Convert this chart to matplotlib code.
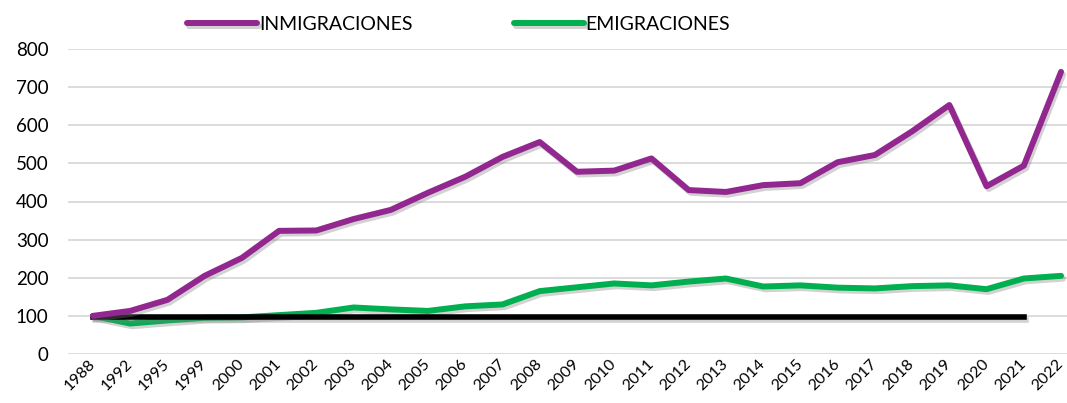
import matplotlib.pyplot as plt
import matplotlib.patheffects as pe
import matplotlib.transforms as mtransforms

years = ['1988', '1992', '1995', '1999', '2000', '2001', '2002', '2003', '2004',
         '2005', '2006', '2007', '2008', '2009', '2010', '2011', '2012', '2013',
         '2014', '2015', '2016', '2017', '2018', '2019', '2020', '2021', '2022']
inmigraciones = [100, 113, 142, 205, 252, 323, 324, 354, 378, 423, 465, 517, 556,
                 478, 481, 513, 430, 425, 443, 448, 503, 522, 584, 653, 440, 494, 740]
emigraciones = [100, 80, 88, 95, 96, 102, 108, 122, 117, 113, 125, 130, 165,
                175, 185, 180, 190, 198, 177, 180, 174, 172, 178, 180, 170, 198, 205]
base = 96  # linea de referencia

plt.rcParams['font.family'] = ['Lato', 'DejaVu Sans']

fig = plt.figure(figsize=(10.67, 4.03), dpi=100)
ax = fig.add_axes([0.0637, 0.1216, 0.9363, 0.7568])

x = list(range(len(years)))
shadow = [pe.SimpleLineShadow(offset=(1.5, -2), shadow_color='gray', alpha=0.35), pe.Normal()]

ax.plot(x, emigraciones, color='#00B050', lw=4.3, solid_capstyle='round',
        solid_joinstyle='round', path_effects=shadow, label='EMIGRACIONES', zorder=3)
ax.plot(x[:-1], [base] * (len(x) - 1), color='black', lw=4.0,
        solid_capstyle='projecting', path_effects=shadow, zorder=3.5)
ax.plot(x, inmigraciones, color='#92278F', lw=4.3, solid_capstyle='round',
        solid_joinstyle='round', path_effects=shadow, label='INMIGRACIONES', zorder=4)

ax.set_ylim(0, 800)
ax.set_yticks(range(0, 801, 100))
ax.set_xlim(-0.67, 26.16)
ax.set_xticks(x)
ax.set_xticklabels(years, rotation=45, ha='right', rotation_mode='anchor', fontsize=11.5)
ax.tick_params(axis='y', labelsize=13.5, length=0, pad=14)
ax.tick_params(axis='x', length=0, pad=2)
# desplazar etiquetas un poco a la izquierda para que no se corten
shift = mtransforms.ScaledTranslation(-5 / 100, 0, fig.dpi_scale_trans)
for lab in ax.get_xticklabels():
    lab.set_transform(lab.get_transform() + shift)
ax.grid(axis='y', color='#D9D9D9', lw=1.3)
ax.set_axisbelow(True)
for s in ax.spines.values():
    s.set_visible(False)

h, l = ax.get_legend_handles_labels()
fig.legend(h[::-1], l[::-1], loc='center', bbox_to_anchor=(0.43, 0.94), ncol=2,
           frameon=False, fontsize=14, handlelength=3.6, handletextpad=0.1,
           columnspacing=5.2)

plt.savefig('out.png', dpi=100)
